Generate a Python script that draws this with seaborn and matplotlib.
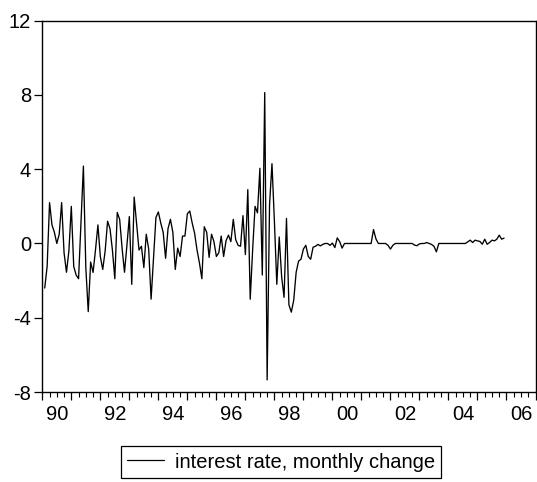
import numpy as np
import pandas as pd
import matplotlib
matplotlib.use("Agg")
import matplotlib.pyplot as plt
import seaborn as sns
from matplotlib.ticker import MultipleLocator

# monthly change of the interest rate, 1990M02 .. 2005M12
start_period = "1990-02"
end_period = "2005-12"
y1990 = [-2.4, -1.24, 2.2, 1.0, 0.6, 0.0, 0.5, 2.2, -0.5, -1.55, -0.4]
y1991 = [2.0, -1.24, -1.7, -1.9, 1.2, 4.17, -1.3, -3.67, -1.0, -1.56, -0.35, 1.0]
y1992 = [-0.7, -1.4, -0.4, 1.2, 0.8, -0.35, -1.9, 1.67, 1.3, -0.25, -1.55, -0.1]
y1993 = [1.45, -2.2, 2.5, 1.1, -0.35, -0.15, -1.3, 0.5, -0.3, -3.0, -0.8, 1.4]
y1994 = [1.7, 1.1, 0.6, -0.8, 0.8, 1.3, 0.6, -1.4, -0.25, -0.7, 0.4, 0.4]
y1995 = [1.6, 1.75, 1.1, 0.55, -0.35, -1.05, -1.9, 0.9, 0.6, -0.75, 0.5, 0.1]
y1996 = [-0.7, -0.5, 0.4, -0.7, 0.15, 0.45, 0.1, 1.3, 0.2, -0.1, -0.15, 1.5]
y1997 = [-0.6, 2.9, -3.0, -0.35, 2.0, 1.65, 4.05, -1.7, 8.13, -7.35, 2.1, 4.3]
y1998 = [1.2, -2.2, 0.35, -1.8, -2.9, 1.35, -3.3, -3.7, -3.05, -1.55, -0.95, -0.85]
y1999 = [-0.3, -0.1, -0.7, -0.85, -0.2, -0.15, -0.05, -0.13, -0.05, 0.0, 0.0, -0.1]
y2000 = [0.02, -0.22, 0.3, 0.1, -0.25, 0.0, 0.0, 0.0, 0.0, 0.0, 0.0, 0.0]
y2001 = [0.0, 0.0, 0.0, 0.0, 0.0, 0.75, 0.25, 0.0, 0.0, 0.0, 0.0, -0.1]
y2002 = [-0.3, -0.1, 0.0, 0.0, 0.0, 0.0, 0.0, 0.0, 0.0, 0.0, -0.09, -0.12]
y2003 = [-0.02, 0.0, 0.0, 0.05, 0.0, -0.05, -0.15, -0.45, 0.0, 0.0, 0.0, 0.0]
y2004 = [0.0, 0.0, 0.0, 0.0, 0.0, 0.0, 0.0, 0.0, 0.09, 0.18, 0.05, 0.18]
y2005 = [0.14, 0.11, -0.04, 0.23, -0.04, 0.05, 0.18, 0.14, 0.23, 0.45, 0.23, 0.29]

series_label = "interest rate, monthly change"
ytick_values = [-8, -4, 0, 4, 8, 12]
xlabel_years = [1990, 1992, 1994, 1996, 1998, 2000, 2002, 2004, 2006]
xlabel_texts = ["90", "92", "94", "96", "98", "00", "02", "04", "06"]

values = (y1990 + y1991 + y1992 + y1993 + y1994 + y1995 + y1996 + y1997 +
          y1998 + y1999 + y2000 + y2001 + y2002 + y2003 + y2004 + y2005)
periods = pd.period_range(start_period, end_period, freq="M")
df = pd.DataFrame({
    "t": periods.year + (periods.month - 1) / 12.0,
    "v": values,
    "s": series_label,
})

FS = 14.5
sns.set_theme(style="white")
plt.rcParams["font.family"] = ["Liberation Sans", "DejaVu Sans"]
plt.rcParams["font.size"] = FS
plt.rcParams["text.color"] = "black"

fig = plt.figure(figsize=(5.37, 4.82), dpi=100)
ax = fig.add_axes([42.3 / 537, 1 - 392 / 482, (535.5 - 42.3) / 537, (392 - 20.7) / 482])

sns.lineplot(data=df, x="t", y="v", hue="s", palette=["black"], linewidth=0.95,
             ax=ax, legend=True)

ax.set_xlim(1990, 2007)
ax.set_ylim(-8, 12)
ax.set_xlabel("")
ax.set_ylabel("")

for sp in ax.spines.values():
    sp.set_visible(True)
    sp.set_color("black")
    sp.set_linewidth(1.0)

ax.set_yticks(ytick_values)
ax.set_yticklabels([str(v) for v in ytick_values])
ax.tick_params(axis="y", direction="out", length=6, width=0.9, color="black",
               labelsize=FS, pad=2, left=True, right=False, labelcolor="black")

ax.xaxis.set_major_locator(MultipleLocator(1))
ax.xaxis.set_minor_locator(MultipleLocator(0.25))
ax.tick_params(axis="x", which="major", direction="out", length=6, width=0.9,
               color="black", labelbottom=False, bottom=True)
ax.tick_params(axis="x", which="minor", direction="out", length=3.5, width=0.8,
               color="black", bottom=True)

sec = ax.secondary_xaxis("bottom")
sec.set_xticks([y + 0.5 for y in xlabel_years])
sec.set_xticklabels(xlabel_texts)
sec.tick_params(length=0, pad=9, labelsize=FS, labelcolor="black")
sec.spines["bottom"].set_visible(False)

leg = ax.get_legend()
handles = leg.legend_handles
leg.remove()
fig.legend(handles, [series_label], loc="center",
           bbox_to_anchor=(281 / 537, 1 - 462 / 482), bbox_transform=fig.transFigure,
           frameon=True, fancybox=False, edgecolor="black", framealpha=1,
           fontsize=FS, handlelength=1.85, handletextpad=0.55, borderpad=0.3,
           labelcolor="black")
fig.legends[0].get_frame().set_linewidth(0.9)
for h in fig.legends[0].legend_handles:
    h.set_linewidth(0.9)

fig.savefig("out.png", dpi=100)
